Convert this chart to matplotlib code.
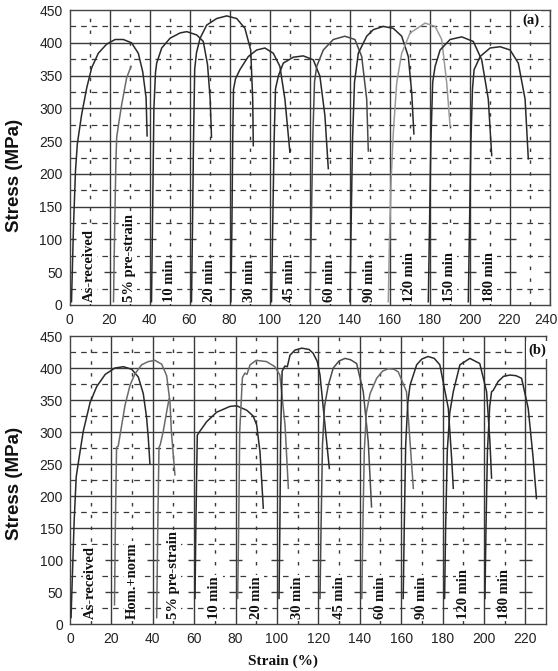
import matplotlib
matplotlib.use("Agg")
import matplotlib.pyplot as plt
from matplotlib.transforms import ScaledTranslation

# ---- panel (a) data: strain (%) / stress (MPa) ----
A_LABELS = ["As-received", "5% pre-strain", "10 min", "20 min", "30 min", "45 min",
            "60 min", "90 min", "120 min", "150 min", "180 min"]
A_LABEL_X = [10, 30, 50, 70, 90, 110, 130, 150, 170, 190, 210]
A_STRAIN = [
    [1.0, 2.0, 3.0, 3.9, 4.5, 6.1, 8.6, 11.1, 14.4, 18.6, 22.8, 26.9, 31.0, 34.4, 36.6, 38.3, 38.8],
    [22.0, 22.6, 23.2, 23.6, 24.5, 26.1, 28.6, 30.8],
    [41.0, 41.6, 42.2, 43.0, 43.6, 46.1, 50.3, 55.3, 58.6, 63.6, 66.9, 69.0, 70.3, 71.0],
    [61.0, 61.5, 62.0, 62.6, 63.5, 65.3, 68.6, 73.6, 78.6, 83.6, 87.7, 90.6, 91.6, 91.9],
    [80.7, 81.2, 81.6, 82.0, 83.0, 85.2, 89.4, 93.6, 97.7, 101.9, 105.2, 107.7, 110.2],
    [101.0, 101.6, 102.3, 103.0, 104.5, 106.9, 111.9, 116.9, 121.9, 125.2, 127.7, 129.4],
    [120.3, 120.9, 121.6, 122.5, 123.6, 126.9, 131.9, 137.7, 142.7, 146.1, 148.6, 149.4],
    [140.2, 140.8, 141.5, 142.5, 144.4, 148.6, 151.9, 156.9, 161.9, 166.1, 169.4, 171.1, 172.2],
    [159.4, 160.0, 160.8, 161.9, 163.6, 166.1, 170.3, 177.8, 182.8, 186.1, 188.6, 190.3],
    [179.4, 180.0, 180.7, 181.6, 182.8, 185.3, 190.3, 196.1, 201.9, 206.1, 209.4, 211.1],
    [199.4, 200.0, 200.7, 201.5, 202.3, 205.3, 210.3, 215.3, 220.3, 224.4, 227.8, 229.4],
]
A_STRESS = [
    [5, 120, 205, 245, 258, 291, 331, 362, 384, 398, 405, 405, 400, 384, 356, 316, 258],
    [5, 120, 220, 256, 275, 306, 347, 364],
    [5, 150, 300, 355, 369, 392, 407, 415, 417, 412, 402, 367, 316, 256],
    [5, 120, 250, 360, 385, 407, 427, 437, 441, 437, 422, 389, 314, 243],
    [5, 120, 250, 329, 345, 359, 379, 389, 392, 384, 364, 314, 233],
    [5, 120, 250, 330, 350, 369, 378, 380, 374, 349, 289, 208],
    [5, 120, 250, 340, 364, 389, 405, 410, 405, 379, 314, 235],
    [5, 120, 250, 340, 384, 410, 420, 425, 422, 410, 379, 324, 261],
    [5, 100, 190, 263, 339, 384, 415, 430, 425, 405, 339, 273],
    [5, 120, 250, 340, 364, 389, 405, 409, 402, 374, 314, 228],
    [5, 120, 250, 330, 359, 379, 392, 394, 389, 369, 314, 223],
]

# ---- panel (b) data ----
B_LABELS = ["As-received", "Hom.+norm", "5% pre-strain", "10 min", "20 min", "30 min",
            "45 min", "60 min", "90 min", "120 min", "180 min"]
B_LABEL_X = [10, 30, 50, 70, 90, 110, 130, 150, 170, 190, 210]
B_STRAIN = [
    [0.5, 1.2, 2.0, 3.0, 4.5, 6.4, 9.7, 12.9, 17.0, 21.7, 25.8, 29.8, 33.0, 35.4, 37.0, 37.8, 38.6],
    [21.5, 21.9, 22.5, 23.3, 25.0, 26.6, 29.0, 31.4, 34.6, 37.8, 41.0, 44.3, 46.7, 48.3, 49.0, 50.7],
    [41.9, 42.4, 43.0, 43.6, 45.0, 47.0, 47.9],
    [60.4, 60.8, 61.5, 62.5, 66.0, 70.9, 77.3, 80.5, 85.4, 88.5, 90.2, 91.8, 93.4],
    [81.0, 81.5, 82.0, 83.3, 84.5, 85.5, 87.0, 90.0, 95.0, 99.0, 101.4, 103.9, 105.5],
    [101.0, 101.4, 101.8, 102.5, 103.8, 105.0, 106.3, 108.7, 112.0, 115.5, 117.5, 119.5, 120.8, 123.2, 125.3],
    [120.8, 121.3, 122.0, 123.0, 124.8, 127.2, 130.0, 132.9, 135.5, 138.5, 141.7, 144.1, 145.7],
    [141.0, 141.5, 142.2, 143.2, 145.0, 148.2, 151.0, 153.8, 156.5, 158.6, 162.6, 164.3, 165.9],
    [161.0, 161.5, 162.2, 163.2, 164.3, 167.5, 170.0, 173.0, 176.0, 178.7, 182.8, 184.4, 185.2],
    [181.0, 181.5, 182.3, 183.5, 185.2, 188.4, 193.2, 198.0, 201.3, 202.9, 203.7],
    [200.5, 201.0, 201.7, 202.8, 203.7, 204.5, 206.9, 209.5, 212.6, 215.5, 218.2, 221.4, 223.8, 225.4],
]
B_STRESS = [
    [10, 80, 160, 230, 262, 301, 346, 371, 390, 400, 402, 398, 386, 360, 323, 292, 251],
    [30, 150, 276, 278, 311, 342, 373, 391, 405, 410, 412, 406, 388, 347, 300, 233],
    [10, 150, 276, 280, 300, 337, 352],
    [40, 150, 295, 300, 316, 331, 340, 341, 334, 325, 311, 269, 181],
    [40, 150, 300, 385, 392, 390, 405, 412, 410, 402, 389, 311, 212],
    [40, 150, 300, 395, 403, 402, 420, 428, 431, 429, 423, 410, 389, 311, 243],
    [40, 150, 280, 340, 373, 400, 411, 415, 413, 407, 363, 285, 183],
    [40, 150, 270, 330, 360, 384, 395, 399, 398, 394, 363, 285, 212],
    [40, 150, 280, 345, 373, 405, 414, 418, 415, 405, 337, 259, 212],
    [40, 150, 270, 330, 363, 405, 415, 407, 363, 285, 228],
    [40, 150, 270, 340, 363, 365, 379, 387, 389, 388, 384, 337, 259, 196],
]

DARK = "#2a2a2a"
MID = "#6a6a6a"
LIGHT = "#9a9a9a"
A_COLORS = [DARK, MID, DARK, DARK, DARK, DARK, "#4a4a4a", DARK, LIGHT, DARK, DARK]
B_COLORS = [DARK, MID, MID, DARK, MID, DARK, "#4a4a4a", MID, DARK, DARK, DARK]

GRID = "#3a3a3a"
SERIF = "Liberation Serif"
SANS = "Liberation Sans"


def draw_grid(ax, xmax):
    for x in range(20, int(xmax) + 1, 20):
        ax.axvline(x, color=GRID, lw=1.0, zorder=1)
    for x in range(10, int(xmax), 20):
        ax.axvline(x, color=GRID, lw=1.0, ls=(0, (2.5, 6)), zorder=1)
    for y in range(150, 450, 50):
        ax.axhline(y, color=GRID, lw=1.0, zorder=1)
    for y in range(25, 450, 50):
        ax.axhline(y, color=GRID, lw=0.9, ls=(0, (4.5, 4)), zorder=1)
    # lower solid rows only survive as small crosses in the scan
    for y in (50, 100):
        for x in range(0, int(xmax) + 1, 20):
            ax.plot([x - 3, x + 3], [y, y], color=GRID, lw=1.0, zorder=1,
                    solid_capstyle="butt")


def draw_panel(ax, xmax, xticks, strains, stresses, colors, labels, label_x, label_y, tag, tag_pos):
    ax.set_xlim(0, xmax)
    ax.set_ylim(0, 450)
    draw_grid(ax, xmax)
    for sx, sy, c in zip(strains, stresses, colors):
        ax.plot(sx, sy, color=c, lw=1.1, zorder=4, solid_joinstyle="round")
    for name, lx in zip(labels, label_x):
        ax.text(lx, label_y, name, rotation=90, ha="center", va="bottom",
                family=SERIF, weight="bold", size=10.5, color="#111", zorder=3,
                bbox=dict(facecolor="white", edgecolor="none", pad=0.8))
    ax.text(tag_pos[0], tag_pos[1], tag, transform=ax.transAxes, ha="center", va="center",
            family=SERIF, weight="bold", size=10.5, color="#111", zorder=5,
            bbox=dict(facecolor="white", edgecolor="none", pad=1.5))
    ax.set_xticks(list(xticks))
    ax.set_yticks(range(0, 451, 50))
    ax.tick_params(length=0, labelsize=10, colors="#222")
    ax.tick_params(axis="x", pad=6)
    ax.tick_params(axis="y", pad=5)
    for lab in ax.get_xticklabels() + ax.get_yticklabels():
        lab.set_family(SANS)
    for sp in ax.spines.values():
        sp.set_color("#444")
        sp.set_linewidth(1.0)


def main() -> None:
    fig = plt.figure(figsize=(5.58, 6.71), dpi=100)
    fig.patch.set_facecolor("white")

    ax_a = fig.add_axes([69.5 / 558, 1 - 305 / 671, 480 / 558, 295 / 671])
    ax_b = fig.add_axes([70 / 558, 1 - 624 / 671, 476 / 558, 288 / 671])

    draw_panel(ax_a, 240, range(0, 241, 20), A_STRAIN, A_STRESS, A_COLORS,
               A_LABELS, A_LABEL_X, 4, "(a)", (0.961, 0.966))
    draw_panel(ax_b, 230, range(0, 221, 20), B_STRAIN, B_STRESS, B_COLORS,
               B_LABELS, B_LABEL_X, 8, "(b)", (0.981, 0.951))

    # last tick label of (a) sits at the image edge: nudge it inwards
    last = ax_a.get_xticklabels()[-1]
    last.set_transform(last.get_transform() + ScaledTranslation(-4 / 100, 0, fig.dpi_scale_trans))

    fig.text(15 / 558, 1 - 175 / 671, "Stress (MPa)", rotation=90, ha="center", va="center",
             family=SANS, weight="bold", size=13.5, color="#111")
    fig.text(15 / 558, 1 - 483 / 671, "Stress (MPa)", rotation=90, ha="center", va="center",
             family=SANS, weight="bold", size=13.5, color="#111")
    fig.text(283 / 558, 1 - 661 / 671, "Strain (%)", ha="center", va="center",
             family=SERIF, weight="bold", size=11, color="#111")

    fig.savefig("out.png", dpi=100)
    plt.close(fig)


if __name__ == "__main__":
    main()
